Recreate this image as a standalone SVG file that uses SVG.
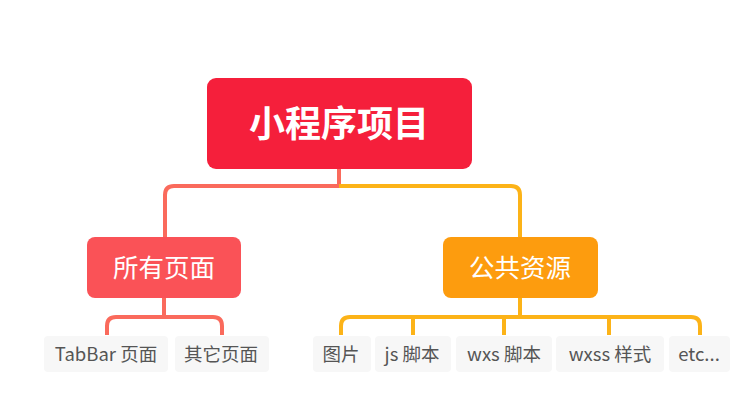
<svg xmlns="http://www.w3.org/2000/svg" width="739" height="414" viewBox="0 0 739 414">
<style>
.red{fill:none;stroke:#fa6a5c;stroke-width:4;stroke-linejoin:round}
.org{fill:none;stroke:#fcb318;stroke-width:4;stroke-linejoin:round}
.leafbg{fill:#f7f7f7}
.leaf{font-family:"Noto Sans CJK SC","Noto Sans",sans-serif;font-size:18.5px;fill:#555;text-anchor:middle}
.mid{font-family:"Noto Sans CJK SC",sans-serif;font-size:25.5px;fill:#fff;text-anchor:middle}
</style>
<rect width="739" height="414" fill="#fff"/>
<g id="connectors">
<path class="red" d="M339 169 V186 H174 Q165 186 165 195 V237"/>
<path class="org" d="M339 186 H511 Q520 186 520 195 V237"/>
<path class="red" d="M164 298 V317 H116 Q107 317 107 326 V335"/>
<path class="red" d="M164 317 H213 Q222 317 222 326 V335"/>
<path class="org" d="M520 298 V317 H350 Q341 317 341 326 V335"/>
<path class="org" d="M413 317 V335"/>
<path class="org" d="M504 317 V335"/>
<path class="org" d="M609 317 V335"/>
<path class="org" d="M520 317 H691 Q700 317 700 326 V335"/>
</g>
<g id="root">
<rect x="207" y="78" width="265" height="91" rx="9" fill="#f51f3b"/>
<text x="339" y="137" font-family="'Noto Sans CJK SC',sans-serif" font-size="36" font-weight="bold" fill="#fff" text-anchor="middle">小程序项目</text>
</g>
<g id="pages">
<rect x="87" y="237" width="154" height="61" rx="8" fill="#fa5257"/>
<text class="mid" x="164" y="277">所有页面</text>
</g>
<g id="resources">
<rect x="443" y="237" width="155" height="61" rx="8" fill="#fd9c0e"/>
<text class="mid" x="520" y="277">公共资源</text>
</g>
<g id="tabbar"><rect class="leafbg" x="44" y="336" width="124" height="36" rx="4"/><text class="leaf" x="106" y="361">TabBar 页面</text></g>
<g id="other"><rect class="leafbg" x="175" y="336" width="94" height="36" rx="4"/><text class="leaf" x="221" y="361">其它页面</text></g>
<g id="img"><rect class="leafbg" x="313" y="336" width="58" height="36" rx="4"/><text class="leaf" x="341" y="361">图片</text></g>
<g id="js"><rect class="leafbg" x="375" y="336" width="76" height="36" rx="4"/><text class="leaf" x="412" y="361">js 脚本</text></g>
<g id="wxs"><rect class="leafbg" x="456" y="336" width="96" height="36" rx="4"/><text class="leaf" x="504" y="361">wxs 脚本</text></g>
<g id="wxss"><rect class="leafbg" x="556" y="336" width="108" height="36" rx="4"/><text class="leaf" x="610" y="361">wxss 样式</text></g>
<g id="etc"><rect class="leafbg" x="669" y="336" width="61" height="36" rx="4"/><text class="leaf" x="699" y="361">etc...</text></g>
</svg>
